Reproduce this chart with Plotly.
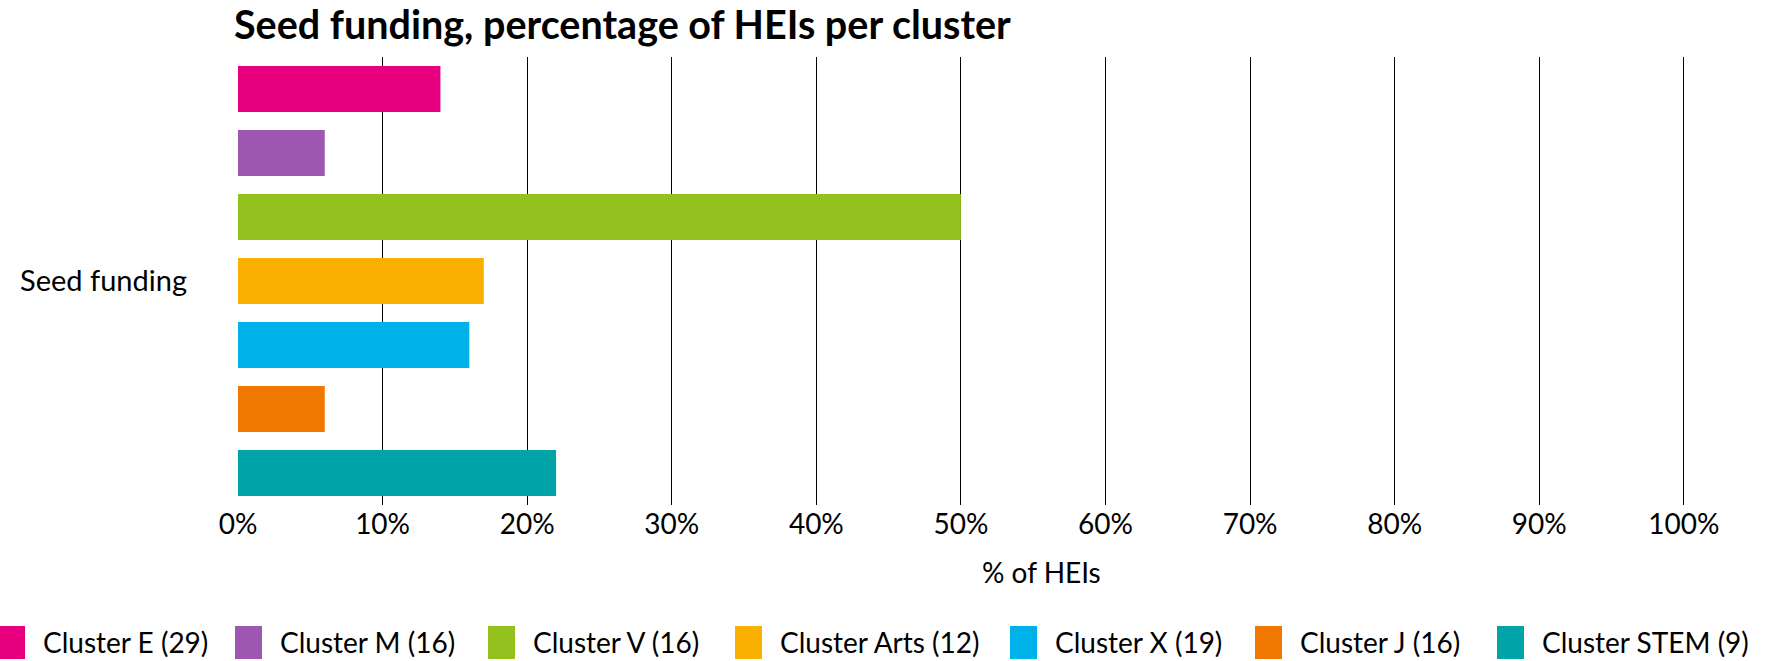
import plotly.graph_objects as go

# ---- data ----
category = ["Seed funding"]
clusters = ["Cluster E (29)", "Cluster M (16)", "Cluster V (16)", "Cluster Arts (12)",
            "Cluster X (19)", "Cluster J (16)", "Cluster STEM (9)"]
values = [14, 6, 50, 17, 16, 6, 22]
colors = ["#E6007E", "#9D57B2", "#95C11F", "#FAB000", "#00B2EA", "#F07800", "#00A4A6"]
x_ticks = [0, 10, 20, 30, 40, 50, 60, 70, 80, 90, 100]

# ---- layout geometry (pixels) ----
W, H = 1773, 661
PL, PR, PT, PB = 238, 1685, 57, 505
FONT = "Lato"

fig = go.Figure()
for name, v, c in zip(clusters, values, colors):
    fig.add_trace(go.Bar(
        y=category, x=[v], name=name, orientation="h",
        marker=dict(color=c, line=dict(width=0)), showlegend=False,
    ))


def px_x(px):
    return (px - PL) / (PR - PL)


def px_y(py):
    return (PB - py) / (PB - PT)


# manual legend (swatch + label) built from the cluster lists
legend_left = [-2, 235, 488, 735, 1010, 1255, 1497]
sw_w, sw_top, sw_bot = 27, 626, 659
shapes = []
annotations = []
for name, c, lx in zip(clusters, colors, legend_left):
    shapes.append(dict(type="rect", xref="paper", yref="paper",
                       x0=px_x(lx), x1=px_x(lx + sw_w), y0=px_y(sw_bot), y1=px_y(sw_top),
                       fillcolor=c, line=dict(width=0), layer="above"))
    annotations.append(dict(text=name, xref="paper", yref="paper",
                            x=px_x(lx + 43), y=px_y(642), xanchor="left", yanchor="middle",
                            showarrow=False, font=dict(family=FONT, size=28, color="black")))

# x axis title
annotations.append(dict(text="% of HEIs", xref="paper", yref="paper",
                        x=px_x(1041), y=px_y(572), xanchor="center", yanchor="middle",
                        showarrow=False, font=dict(family=FONT, size=28, color="black")))

fig.update_layout(
    width=W, height=H,
    margin=dict(l=PL, r=W - PR, t=PT, b=H - PB, pad=0),
    paper_bgcolor="white", plot_bgcolor="white",
    barmode="group", bargap=0.0, bargroupgap=0.28,
    title=dict(text="<b>Seed funding, percentage of HEIs per cluster</b>",
               x=234 / W, xanchor="left", xref="container",
               y=1 - 25 / H, yanchor="middle", yref="container",
               font=dict(family=FONT, size=39.5, color="black")),
    xaxis=dict(range=[0, 100.08], tickvals=x_ticks, ticktext=[f"{t}%" for t in x_ticks],
               showgrid=True, gridcolor="black", gridwidth=1,
               zeroline=False, showline=False, ticks="",
               tickfont=dict(family=FONT, size=28, color="black"), fixedrange=True),
    yaxis=dict(type="category", range=[0.5, -0.5], showgrid=False, zeroline=False,
               showline=False, ticks="", ticklabelstandoff=50,
               tickfont=dict(family=FONT, size=29, color="black")),
    shapes=shapes,
    annotations=annotations,
    showlegend=False,
)

fig.write_html(
    "out.html",
    config={"displayModeBar": False},
    post_script="document.body.style.margin='0';document.body.style.overflow='hidden';",
)
